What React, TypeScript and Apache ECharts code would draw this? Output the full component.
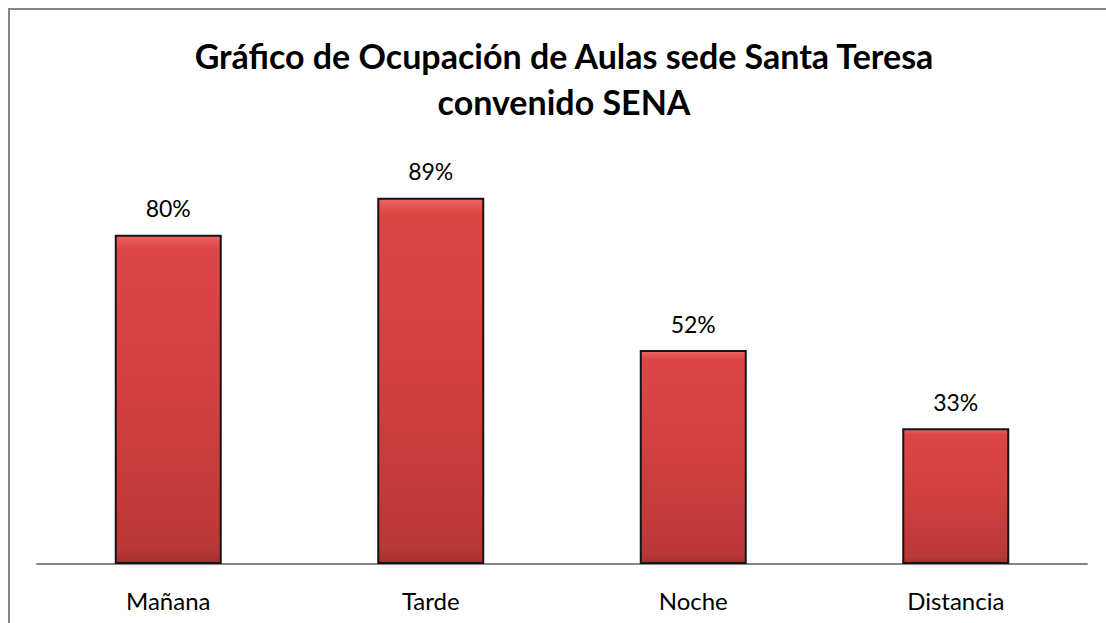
import React, { useEffect, useRef } from "react";
import * as echarts from "echarts";

const categories = ["Mañana", "Tarde", "Noche", "Distancia"];
const values = [0.8, 0.89, 0.52, 0.33];
const titleLines = ["Gráfico de Ocupación de Aulas sede Santa Teresa", "convenido SENA"];

export default function App() {
  const ref = useRef<HTMLDivElement>(null);
  useEffect(() => {
    const chart = echarts.init(ref.current!, undefined, { renderer: "svg" });
    chart.setOption({
      animation: false,
      backgroundColor: "#ffffff",
      graphic: [
        { type: "line", shape: { x1: 8, y1: 9, x2: 1106, y2: 9 }, style: { stroke: "#868686", lineWidth: 2 } },
        { type: "line", shape: { x1: 9, y1: 8, x2: 9, y2: 623 }, style: { stroke: "#868686", lineWidth: 2 } },
        {
          type: "text",
          x: 564,
          y: 78,
          style: {
            text: titleLines.join("\n"),
            textAlign: "center",
            textVerticalAlign: "middle",
            font: "bold 34px Lato",
            lineHeight: 46,
            fill: "#000000",
          },
        },
      ],
      grid: { left: 37, right: 19, top: 152.5, bottom: 59, containLabel: false },
      xAxis: {
        type: "category",
        data: categories,
        axisLine: { lineStyle: { color: "#868686", width: 2 } },
        axisTick: { show: false },
        axisLabel: { color: "#000000", fontFamily: "Lato", fontSize: 24, margin: 24 },
      },
      yAxis: {
        type: "value",
        min: 0,
        max: 1,
        show: false,
        splitLine: { show: false },
      },
      series: [
        {
          type: "bar",
          data: values,
          barWidth: 107,
          itemStyle: {
            borderColor: "#141414",
            borderWidth: 2,
            color: new echarts.graphic.LinearGradient(0, 0, 0, 1, [
              { offset: 0, color: "#ee6262" },
              { offset: 0.04, color: "#de4646" },
              { offset: 0.5, color: "#d13f3f" },
              { offset: 0.95, color: "#bb3838" },
              { offset: 1, color: "#a53030" },
            ]),
          },
          label: {
            show: true,
            position: "top",
            distance: 15,
            color: "#000000",
            fontFamily: "Lato",
            fontSize: 23,
            formatter: (p: any) => Math.round(p.value * 100) + "%",
          },
        },
      ],
    });
    return () => chart.dispose();
  }, []);
  return (
    <div
      ref={ref}
      style={{ position: "absolute", left: 0, top: 0, width: 1106, height: 623 }}
    />
  );
}
